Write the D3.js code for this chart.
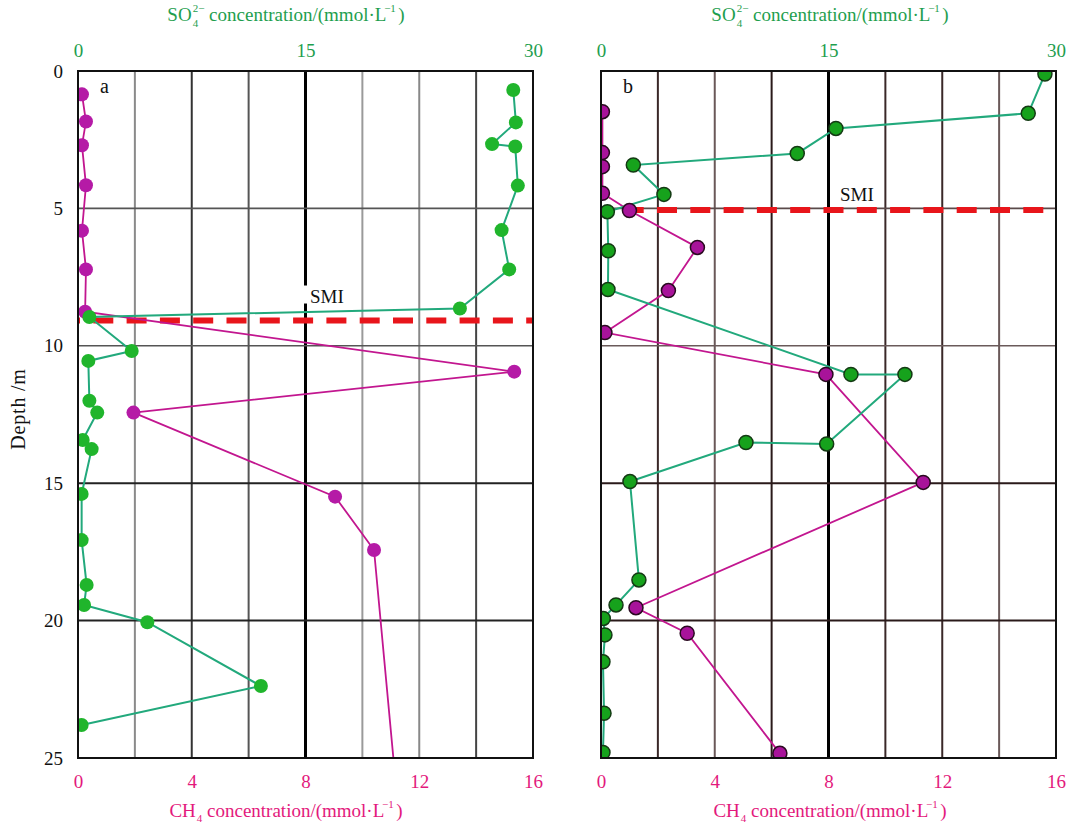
<!DOCTYPE html>
<html><head><meta charset="utf-8">
<script src="https://cdn.jsdelivr.net/npm/d3@7"></script>
<style>body{margin:0;background:#fff}svg{display:block}svg text{font-family:'Liberation Serif','Times New Roman',serif}</style>
</head><body>
<svg id="c" width="1072" height="827"></svg>
<script>
// ---------- data ----------
const depthTicks = [0, 5, 10, 15, 20, 25];
const ch4Ticks = [0, 4, 8, 12, 16];
const so4Ticks = [0, 15, 30];
const ch4Grid = [2, 4, 6, 8, 10, 12, 14];
const depthGrid = [5, 10, 15, 20];

// panel a
const aCh4Depth = [0.85, 1.84, 2.7, 4.16, 5.81, 7.22, 8.76, 10.94, 12.43, 15.49, 17.43];
const aCh4 = [0.14, 0.28, 0.14, 0.28, 0.14, 0.28, 0.25, 15.34, 1.95, 9.04, 10.41];
const aCh4TailDepth = [25];
const aCh4Tail = [11.09];
const aSo4Depth = [0.69, 1.87, 2.66, 2.75, 4.17, 5.79, 7.22, 8.64, 8.95, 10.19, 10.55, 12.0, 12.43, 13.43, 13.76, 15.39, 17.07, 18.7, 19.43, 20.06, 22.38, 23.8];
const aSo4 = [28.7, 28.87, 27.3, 28.83, 29.0, 27.93, 28.43, 25.18, 0.75, 3.54, 0.68, 0.75, 1.27, 0.31, 0.9, 0.24, 0.24, 0.57, 0.4, 4.57, 12.06, 0.24];
const aSmi = 9.08;

// panel b
const bCh4Depth = [1.48, 2.97, 3.48, 4.45, 5.08, 6.42, 7.99, 9.52, 11.04, 14.97, 19.53, 20.46, 24.83];
const bCh4 = [0.05, 0.05, 0.05, 0.05, 1.0, 3.39, 2.37, 0.14, 7.91, 11.33, 1.23, 3.03, 6.29];
const bSo4Depth = [0.11, 1.54, 2.09, 3.0, 3.42, 4.49, 5.12, 6.54, 7.95, 11.04, 11.04, 13.57, 13.52, 14.94, 18.52, 19.43, 19.92, 20.52, 21.5, 23.37, 24.8];
const bSo4 = [29.27, 28.17, 15.49, 12.94, 2.13, 4.15, 0.42, 0.48, 0.46, 16.48, 20.04, 14.88, 9.56, 1.91, 2.5, 0.99, 0.15, 0.26, 0.13, 0.2, 0.13];
const bSmi = 5.06;

// ---------- layout / style ----------
const FONT = "'Liberation Serif','Times New Roman',serif";
const GREEN_TXT = "#1e9e4e", PINK_TXT = "#e3197c";
const svg = d3.select("#c").style("font-family", FONT);
const yTop = 71, yBot = 758, pw = 455;
const y = d3.scaleLinear().domain([0, 25]).range([yTop, yBot]);

function measure(txt, size) {
  const t = svg.append("text").attr("font-size", size).style("font-family", FONT).text(txt);
  const w = t.node().getComputedTextLength(); t.remove(); return w;
}

function so4Title(cx, base) {
  const big = 19, small = 11;
  const parts = [
    {t: "SO", s: big, dy: 0},
    {t: "2\u2212", s: small, dy: -9},
    {t: "4", s: small, dy: 6},
    {t: " concentration/(mmol\u00B7L", s: big, dy: 0},
    {t: "\u22121", s: small, dy: -9},
    {t: ")", s: big, dy: 0}
  ];
  parts.forEach(p => p.w = measure(p.t, p.s));
  const stackW = Math.max(parts[1].w, parts[2].w);
  const total = parts[0].w + stackW + parts[3].w + parts[4].w + parts[5].w + 6;
  let x = cx - total / 2;
  const t = svg.append("text").attr("fill", GREEN_TXT);
  const add = (p, xx) => t.append("tspan").attr("x", xx).attr("y", base + p.dy).attr("font-size", p.s).text(p.t);
  add(parts[0], x); x += parts[0].w + 1;
  add(parts[1], x); add(parts[2], x); x += stackW;
  add(parts[3], x); x += parts[3].w + 2.5;
  add(parts[4], x); x += parts[4].w + 2.5;
  add(parts[5], x);
}
function ch4Title(cx, base) {
  const big = 19, small = 11;
  const parts = [
    {t: "CH", s: big, dy: 0, gap: 1},
    {t: "4", s: small, dy: 5, gap: 0},
    {t: " concentration/(mmol\u00B7L", s: big, dy: 0, gap: 2.5},
    {t: "\u22121", s: small, dy: -9, gap: 2.5},
    {t: ")", s: big, dy: 0, gap: 0}
  ];
  parts.forEach(p => p.w = measure(p.t, p.s));
  const total = d3.sum(parts, p => p.w + p.gap);
  let x = cx - total / 2;
  const t = svg.append("text").attr("fill", PINK_TXT);
  parts.forEach(p => { t.append("tspan").attr("x", x).attr("y", base + p.dy).attr("font-size", p.s).text(p.t); x += p.w + p.gap; });
}

const gridStyleA = {2: ["#8a8a8a", 2], 4: ["#333", 2], 6: ["#555", 2], 8: ["#000", 3], 10: ["#9a9a9a", 2], 12: ["#888", 2], 14: ["#444", 2]};
const hGridStyleA = {5: ["#555", 1.6], 10: ["#555", 1.6], 15: ["#222", 2], 20: ["#222", 2]};
const gridStyleB = {2: ["#3a2828", 2], 4: ["#6a5858", 2], 6: ["#2a1a1a", 2], 8: ["#000", 3], 10: ["#3a2828", 2], 12: ["#3a2828", 2], 14: ["#6a5858", 2]};
const hGridStyleB = {5: ["#5a4a4a", 1.6], 10: ["#6a5a5a", 1.6], 15: ["#2a1a1a", 2], 20: ["#2a1a1a", 2]};

function panel(id, x0, label, ch4D, ch4V, tailD, tailV, so4D, so4V, smi, smiLabelX, opts) {
  const xc = d3.scaleLinear().domain([0, 16]).range([x0, x0 + pw]);
  const xs = d3.scaleLinear().domain([0, 30]).range([x0, x0 + pw]);
  const g = svg.append("g");
  g.append("clipPath").attr("id", "clip" + id).append("rect")
    .attr("x", x0).attr("y", yTop).attr("width", pw).attr("height", yBot - yTop);

  // grid
  ch4Grid.forEach(v => {
    const st = opts.vg[v];
    g.append("line").attr("x1", xc(v)).attr("x2", xc(v)).attr("y1", yTop).attr("y2", yBot)
      .attr("stroke", st[0]).attr("stroke-width", st[1]);
  });
  depthGrid.forEach(v => {
    const st = opts.hg[v];
    g.append("line").attr("x1", x0).attr("x2", x0 + pw).attr("y1", y(v)).attr("y2", y(v))
      .attr("stroke", st[0]).attr("stroke-width", st[1]);
  });

  // SMI
  g.append("line").attr("x1", x0).attr("x2", x0 + pw).attr("y1", y(smi)).attr("y2", y(smi))
    .attr("stroke", "#e8151b").attr("stroke-width", 6).attr("stroke-dasharray", "20,13.3")
    .attr("stroke-dashoffset", opts.dashOff);
  if (opts.smiBg) {
    g.append("rect").attr("x", smiLabelX - 6).attr("y", y(smi) - opts.smiDy - 17)
      .attr("width", 10).attr("height", 18).attr("fill", "#fff");
  }
  g.append("text").attr("x", smiLabelX).attr("y", y(smi) - opts.smiDy)
    .attr("font-size", 19).attr("fill", "#111").text("SMI");

  const data = g.append("g").attr("clip-path", `url(#clip${id})`);
  const lineG = d3.line().x(d => xs(d[1])).y(d => y(d[0]));
  const lineC = d3.line().x(d => xc(d[1])).y(d => y(d[0]));
  const so4Pts = so4D.map((d, i) => [d, so4V[i]]);
  const ch4Pts = ch4D.map((d, i) => [d, ch4V[i]]);
  const ch4Line = ch4Pts.concat(tailD.map((d, i) => [d, tailV[i]]));

  data.append("path").datum(ch4Line).attr("d", lineC).attr("fill", "none")
    .attr("stroke", "#c2168f").attr("stroke-width", 1.8);
  data.append("path").datum(so4Pts).attr("d", lineG).attr("fill", "none")
    .attr("stroke", "#22a97c").attr("stroke-width", 2);
  data.selectAll(".mc").data(ch4Pts).join("circle")
    .attr("cx", d => xc(d[1])).attr("cy", d => y(d[0])).attr("r", 7)
    .attr("fill", opts.mFill).attr("stroke", opts.mStroke).attr("stroke-width", opts.sw);
  data.selectAll(".gc").data(so4Pts).join("circle")
    .attr("cx", d => xs(d[1])).attr("cy", d => y(d[0])).attr("r", 7)
    .attr("fill", opts.gFill).attr("stroke", opts.gStroke).attr("stroke-width", opts.sw);

  // frame
  g.append("rect").attr("x", x0).attr("y", yTop).attr("width", pw).attr("height", yBot - yTop)
    .attr("fill", "none").attr("stroke", "#111").attr("stroke-width", 2);

  // panel label
  g.append("text").attr("x", x0 + opts.lblDx).attr("y", 93).attr("font-size", 20).attr("fill", "#111").text(label);

  // axes
  const axTop = d3.axisTop(xs).tickValues(so4Ticks).tickSize(0).tickPadding(0).tickFormat(d3.format("d"));
  const gt = svg.append("g").attr("transform", `translate(0,57)`).call(axTop).attr("font-family", FONT);
  gt.select(".domain").remove();
  gt.selectAll("text").attr("font-size", 19).attr("fill", GREEN_TXT).attr("dy", 0);

  const axBot = d3.axisBottom(xc).tickValues(ch4Ticks).tickSize(0).tickPadding(0).tickFormat(d3.format("d"));
  const gb = svg.append("g").attr("transform", `translate(0,788)`).call(axBot).attr("font-family", FONT);
  gb.select(".domain").remove();
  gb.selectAll("text").attr("font-size", 19).attr("fill", PINK_TXT).attr("dy", 0);

  so4Title(opts.titleCx, 21);
  ch4Title(opts.titleCx, 817);
}

panel("a", 78, "a", aCh4Depth, aCh4, aCh4TailDepth, aCh4Tail, aSo4Depth, aSo4, aSmi, 310,
  {vg: gridStyleA, hg: hGridStyleA, mFill: "#b51aa6", mStroke: "#b51aa6", gFill: "#20b52c", gStroke: "#20b52c", sw: 0,
   smiDy: 18, smiBg: true, lblDx: 22, titleCx: 286, dashOff: 18});
panel("b", 601, "b", bCh4Depth, bCh4, [], [], bSo4Depth, bSo4, bSmi, 840,
  {vg: gridStyleB, hg: hGridStyleB, mFill: "#a8139a", mStroke: "#2a0a20", gFill: "#16a21c", gStroke: "#143a14", sw: 1.5,
   smiDy: 9, smiBg: false, lblDx: 22, titleCx: 830, dashOff: 10.6});

// left depth axis
const axL = d3.axisLeft(y).tickValues(depthTicks).tickSize(0).tickPadding(0);
const gl = svg.append("g").attr("transform", "translate(63,0)").call(axL).attr("font-family", FONT);
gl.select(".domain").remove();
gl.selectAll("text").attr("font-size", 19).attr("fill", "#111").attr("dy", "0.32em");

svg.append("text").attr("transform", "translate(25,409) rotate(-90)").attr("text-anchor", "middle")
  .attr("font-size", 20).attr("letter-spacing", 0.8).attr("fill", "#111").text("Depth /m");
</script>
</body></html>
